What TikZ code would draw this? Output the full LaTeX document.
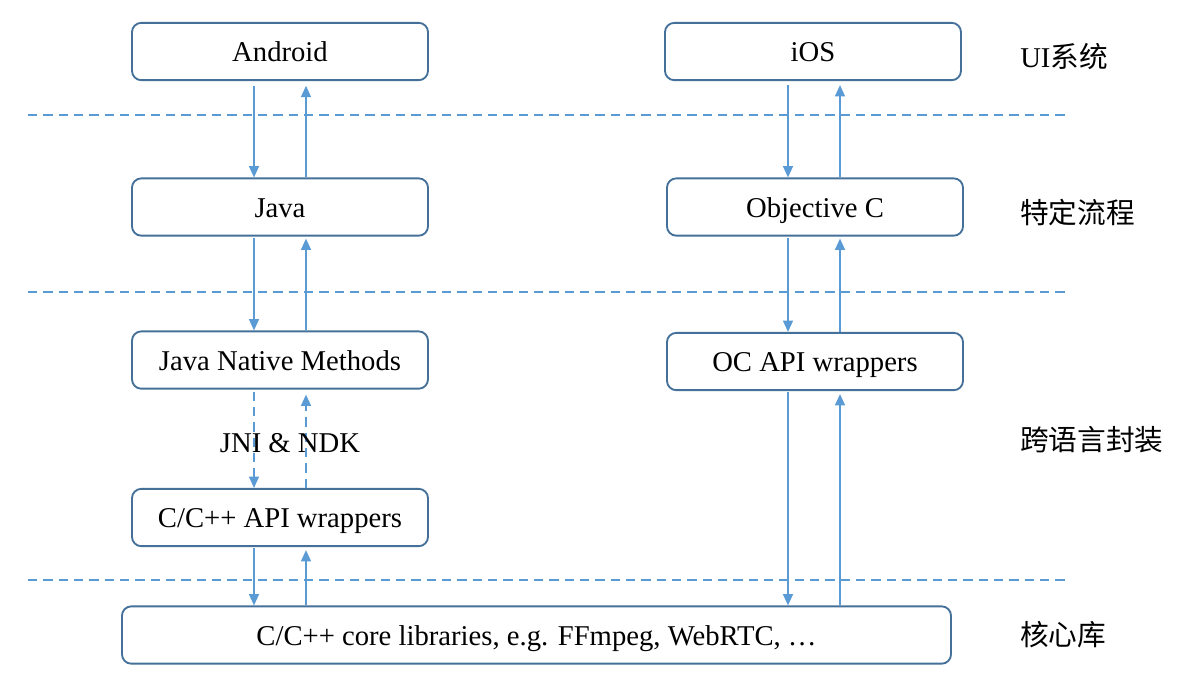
\documentclass[tikz,border=0pt]{standalone}
\usepackage{fontspec}
\setmainfont{Liberation Serif}
\newfontfamily\cjk{Noto Sans CJK SC}
\usetikzlibrary{calc,arrows.meta}
\definecolor{boxblue}{HTML}{44709A}
\definecolor{linblue}{HTML}{5B9BD5}
\begin{document}
\begin{tikzpicture}[x=0.75pt,y=-0.75pt,
  box/.style={draw=boxblue,line width=1.4pt,rounded corners=7pt,minimum width=222pt,minimum height=43pt,inner sep=0pt,text height=19pt,text depth=4pt,font=\fontsize{21.5}{26}\selectfont},
  arr/.style={draw=linblue,line width=1.1pt,-{Triangle[length=8.5pt,width=7.5pt]}},
  dsh/.style={dash pattern=on 7pt off 4.5pt},
  sep/.style={draw=linblue,line width=1.1pt,dsh},
  lab/.style={anchor=west,inner sep=0pt,font=\fontsize{21.5}{26}\selectfont}]
\useasboundingbox (0,0) rectangle (1204,690);
\node[box] (android) at (280,51.5) {Android};
\node[box] (ios) at (813,51.5) {iOS};
\node[box] (java) at (280,207) {Java};
\node[box] (objc) at (815,207) {Objective C};
\node[box] (jnm) at (280,360) {Java Native Methods};
\node[box] (oc) at (815,361.5) {OC API wrappers};
\node[box] (capi) at (280,517.5) {C/C++ API wrappers};
\node[box,minimum width=621.75pt] (core) at (536.5,635) {C/C++ core libraries, e.g. FFmpeg, WebRTC, \dots};
\coordinate (L1) at (254,0);
\coordinate (L2) at (306,0);
\coordinate (R1) at (788,0);
\coordinate (R2) at (840,0);
\coordinate (d1a) at (28,115); \coordinate (d1b) at (1068,115);
\coordinate (d2a) at (28,292); \coordinate (d2b) at (1066,292);
\coordinate (d3a) at (28,580); \coordinate (d3b) at (1066,580);
\draw[sep] (d1a) -- (d1b);
\draw[sep] (d2a) -- (d2b);
\draw[sep] (d3a) -- (d3b);
% left column
\draw[arr,shorten <=3.5pt] (android.south -| L1) -- (java.north -| L1);
\draw[arr,shorten >=3.5pt] (java.north -| L2) -- (android.south -| L2);
\draw[arr,shorten <=1pt] (java.south -| L1) -- (jnm.north -| L1);
\draw[arr] (jnm.north -| L2) -- ($(java.south -| L2)+(0,2)$);
\draw[arr,dsh,shorten <=1.5pt] (jnm.south -| L1) -- (capi.north -| L1);
\draw[arr,dsh] (capi.north -| L2) -- ($(jnm.south -| L2)+(0,5)$);
\draw[arr,shorten <=1pt] (capi.south -| L1) -- (core.north -| L1);
\draw[arr] (core.north -| L2) -- ($(capi.south -| L2)+(0,3)$);
% right column
\draw[arr,shorten <=3pt] (ios.south -| R1) -- (objc.north -| R1);
\draw[arr,shorten >=3pt] (objc.north -| R2) -- (ios.south -| R2);
\draw[arr,shorten <=1pt] (objc.south -| R1) -- (oc.north -| R1);
\draw[arr] (oc.north -| R2) -- ($(objc.south -| R2)+(0,2)$);
\draw[arr,shorten <=1pt] (oc.south -| R1) -- (core.north -| R1);
\draw[arr] (core.north -| R2) -- ($(oc.south -| R2)+(0,3)$);
\node[font=\fontsize{21.5}{26}\selectfont,inner sep=1pt] (jni) at (290,443) {JNI \& NDK};
% layer labels
\node[lab] (l1) at (1020,57) {UI{\cjk 系统}};
\node[lab] (l2) at (1020,213) {\cjk 特定流程};
\node[lab] (l3) at (1020,440) {\cjk 跨语言封装};
\node[lab] (l4) at (1020,635) {\cjk 核心库};
\end{tikzpicture}
\end{document}
